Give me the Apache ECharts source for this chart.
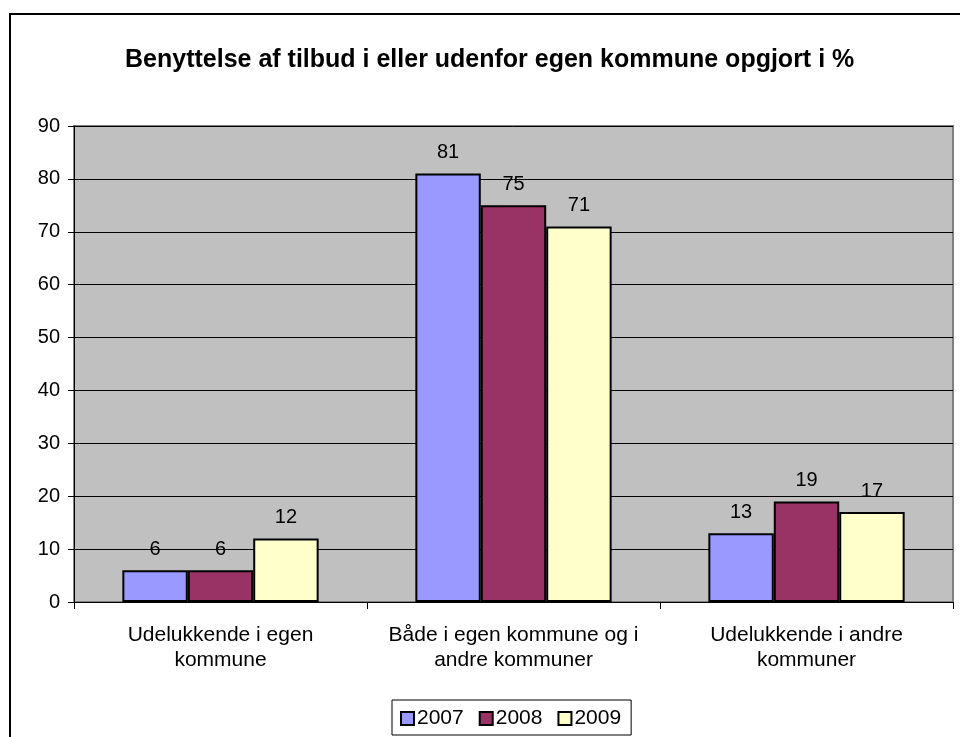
<!DOCTYPE html>
<html>
<head>
<meta charset="utf-8" />
<title>Benyttelse af tilbud</title>
<script src="https://cdn.jsdelivr.net/npm/echarts@6/dist/echarts.min.js"></script>
<style>
html, body { margin: 0; padding: 0; background: #fff; }
#chart { width: 960px; height: 737px; }
</style>
</head>
<body>
<div id="chart"></div>
<script>
// data
var categories = ['Udelukkende i egen\nkommune', 'Både i egen kommune og i\nandre kommuner', 'Udelukkende i andre\nkommuner'];
var years = ['2007', '2008', '2009'];
var v2007 = [6, 81, 13];
var v2008 = [6, 75, 19];
var v2009 = [12, 71, 17];
var colors = ['#9999FF', '#993366', '#FFFFCC'];
var font = 'Arial, "Liberation Sans", sans-serif';

function makeSeries(name, data, color) {
	return {
		name: name,
		type: 'bar',
		data: data,
		barGap: '0%',
		barCategoryGap: '33%',
		itemStyle: { color: color, borderColor: '#000', borderWidth: 2 },
		label: {
			show: true,
			position: 'top',
			distance: 11,
			color: '#000',
			fontSize: 20,
			fontFamily: font
		}
	};
}

var chart = echarts.init(document.getElementById('chart'));
chart.setOption({
	animation: false,
	backgroundColor: '#fff',
	title: {
		text: 'Benyttelse af tilbud i eller udenfor egen kommune opgjort i %',
		left: 120,
		top: 43,
		textStyle: { fontSize: 25, fontWeight: 'bold', color: '#000', fontFamily: font }
	},
	graphic: [{
		type: 'rect',
		shape: { x: 10, y: 14, width: 960, height: 740 },
		style: { fill: 'none', stroke: '#000', lineWidth: 2 },
		z: -1
	}],
	legend: {
		data: years,
		top: 700,
		left: 392,
		icon: 'rect',
		itemWidth: 13,
		itemHeight: 13,
		itemGap: 15,
		padding: [8, 10, 6, 8],
		borderColor: '#000',
		borderWidth: 1,
		textStyle: { fontSize: 21, color: '#000', fontFamily: font, padding: [0, 0, 0, -2] },
		itemStyle: { borderColor: '#000', borderWidth: 2 }
	},
	grid: {
		left: 74,
		right: 7,
		top: 126,
		bottom: 135,
		show: true,
		backgroundColor: '#C0C0C0',
		borderColor: '#808080',
		borderWidth: 2
	},
	xAxis: {
		type: 'category',
		data: categories,
		axisLine: { lineStyle: { color: '#000', width: 1 } },
		axisTick: { show: true, length: 7, interval: 0, lineStyle: { color: '#000' } },
		axisLabel: {
			interval: 0,
			hideOverlap: false,
			color: '#000',
			fontSize: 21,
			fontFamily: font,
			margin: 21,
			lineHeight: 25
		}
	},
	yAxis: {
		type: 'value',
		min: 0,
		max: 90,
		interval: 10,
		axisLine: { show: true, lineStyle: { color: '#000' } },
		axisTick: { show: true, length: 6, lineStyle: { color: '#000' } },
		axisLabel: { color: '#000', fontSize: 20, fontFamily: font, margin: 14 },
		splitLine: { show: true, lineStyle: { color: '#000', width: 1 } }
	},
	series: [
		makeSeries(years[0], v2007, colors[0]),
		makeSeries(years[1], v2008, colors[1]),
		makeSeries(years[2], v2009, colors[2])
	]
});
</script>
</body>
</html>
